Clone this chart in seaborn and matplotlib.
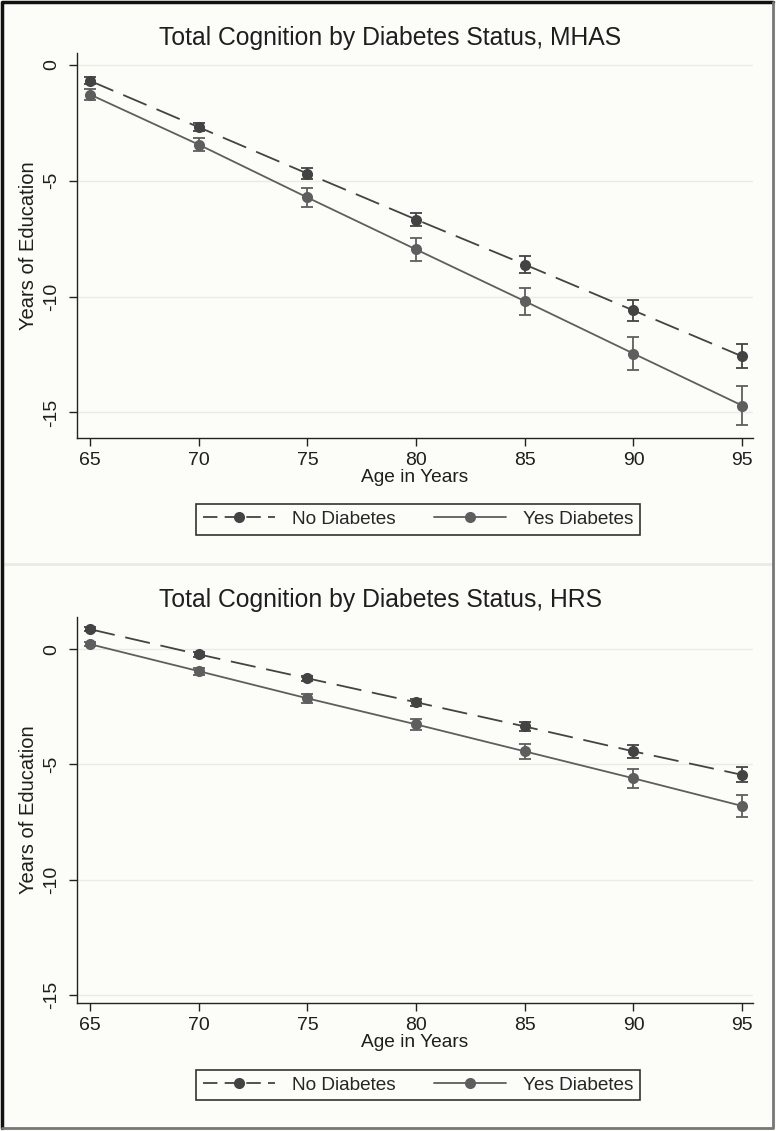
import numpy as np
import pandas as pd
import matplotlib
matplotlib.use("Agg")
import matplotlib.pyplot as plt
import seaborn as sns
from matplotlib.lines import Line2D

# dados
ages = [65, 70, 75, 80, 85, 90, 95]

mhas_no = [-0.70, -2.70, -4.70, -6.68, -8.62, -10.60, -12.58]
mhas_no_err = [0.15, 0.18, 0.25, 0.30, 0.37, 0.45, 0.52]
mhas_yes = [-1.29, -3.45, -5.73, -7.97, -10.20, -12.46, -14.70]
mhas_yes_err = [0.25, 0.28, 0.39, 0.50, 0.58, 0.71, 0.86]

hrs_no = [0.87, -0.22, -1.26, -2.30, -3.35, -4.43, -5.45]
hrs_no_err = [0.08, 0.10, 0.12, 0.16, 0.20, 0.27, 0.33]
hrs_yes = [0.22, -0.95, -2.13, -3.26, -4.43, -5.60, -6.80]
hrs_yes_err = [0.10, 0.15, 0.20, 0.25, 0.32, 0.40, 0.48]

groups = ["No Diabetes", "Yes Diabetes"]
titles = ["Total Cognition by Diabetes Status, MHAS", "Total Cognition by Diabetes Status, HRS"]

sns.set_theme(style="white")
plt.rcParams['font.family'] = ['Liberation Sans', 'DejaVu Sans']

bg = "#fcfcf8"
cores = {"No Diabetes": "#434343", "Yes Diabetes": "#5e5e5e"}
dash = (0, (14, 6))
txt = "#1e1e1e"

fig = plt.figure(figsize=(7.76, 11.31), dpi=100, facecolor=bg)

ax1 = fig.add_axes([77/776, 1 - 438/1131, 676/776, 385/1131])
ax2 = fig.add_axes([77/776, 1 - 1003/1131, 676/776, 386/1131])

paineis = [
    (ax1, mhas_no, mhas_no_err, mhas_yes, mhas_yes_err, (-16.1, 0.5), titles[0], 0.5407, 5.5),
    (ax2, hrs_no, hrs_no_err, hrs_yes, hrs_yes_err, (-15.35, 1.4), titles[1], 0.0407, 7.5),
]

for ax, no, no_err, yes, yes_err, ylim, titulo, ly, tpad in paineis:
    df = pd.DataFrame({
        "age": ages * 2,
        "value": no + yes,
        "err": no_err + yes_err,
        "group": ["No Diabetes"] * len(ages) + ["Yes Diabetes"] * len(ages),
    })
    ax.set_facecolor(bg)
    for g in groups:
        sub = df[df["group"] == g]
        ax.errorbar(sub["age"], sub["value"], yerr=sub["err"], fmt="none",
                    ecolor=cores[g], elinewidth=1.3, capsize=4.5, capthick=1.3, zorder=2)
    sns.lineplot(data=df, x="age", y="value", hue="group", palette=cores,
                 marker="o", markersize=8, markeredgewidth=0, linewidth=1.3,
                 legend=False, ax=ax, zorder=3)
    ax.lines[-2].set_linestyle(dash)

    ax.set_xlim(64.4, 95.5)
    ax.set_ylim(*ylim)
    ax.set_xticks(ages)
    ax.set_yticks([0, -5, -10, -15])
    ax.set_yticklabels(["0", "-5", "-10", "-15"], rotation=90, va="center")
    ax.grid(axis="y", color="#ebebe6", linewidth=1.0)
    ax.grid(axis="x", visible=False)
    for s in ["top", "right"]:
        ax.spines[s].set_visible(False)
    for s in ["left", "bottom"]:
        ax.spines[s].set_color("#222222")
        ax.spines[s].set_linewidth(1.0)
    ax.tick_params(axis="both", which="major", length=6, width=1.0, color="#222222",
                   labelsize=14, labelcolor=txt, pad=4, bottom=True, left=True)
    ax.tick_params(axis="y", pad=6)
    ax.set_xlabel("Age in Years", fontsize=13.8, color=txt, labelpad=0)
    ax.set_ylabel("Years of Education", fontsize=14.5, color=txt, labelpad=4)
    ax.set_title(titulo, fontsize=17.8, color=txt, pad=tpad, x=(159 - 77) / 676, ha="left")

    handles = [
        Line2D([], [], color=cores["No Diabetes"], linestyle=(0, (8, 4)), linewidth=1.3,
               marker="o", markersize=8, markeredgewidth=0),
        Line2D([], [], color=cores["Yes Diabetes"], linestyle="-", linewidth=1.3,
               marker="o", markersize=8, markeredgewidth=0),
    ]
    leg = fig.legend(handles, groups, loc="center", bbox_to_anchor=(0.5387, ly), ncol=2,
                     fontsize=13.7, frameon=True, fancybox=False, handlelength=3.8,
                     columnspacing=2.0, handletextpad=0.9, borderpad=0.35,
                     facecolor=bg, edgecolor="#333333", framealpha=1)
    leg.get_frame().set_linewidth(1.2)

# separador entre os paineis e moldura externa
fig.add_artist(Line2D([0.005, 0.995], [1 - 564/1131] * 2, transform=fig.transFigure,
                      color="#ebebe6", linewidth=2))
fig.add_artist(Line2D([0.002, 0.002, 0.996], [0.003, 0.998, 0.998], transform=fig.transFigure,
                      color="#111111", linewidth=2.5))
fig.add_artist(Line2D([0.996, 0.996, 0.002], [0.998, 0.003, 0.003], transform=fig.transFigure,
                      color="#777777", linewidth=2))

fig.savefig("out.png", dpi=100, facecolor=bg)
